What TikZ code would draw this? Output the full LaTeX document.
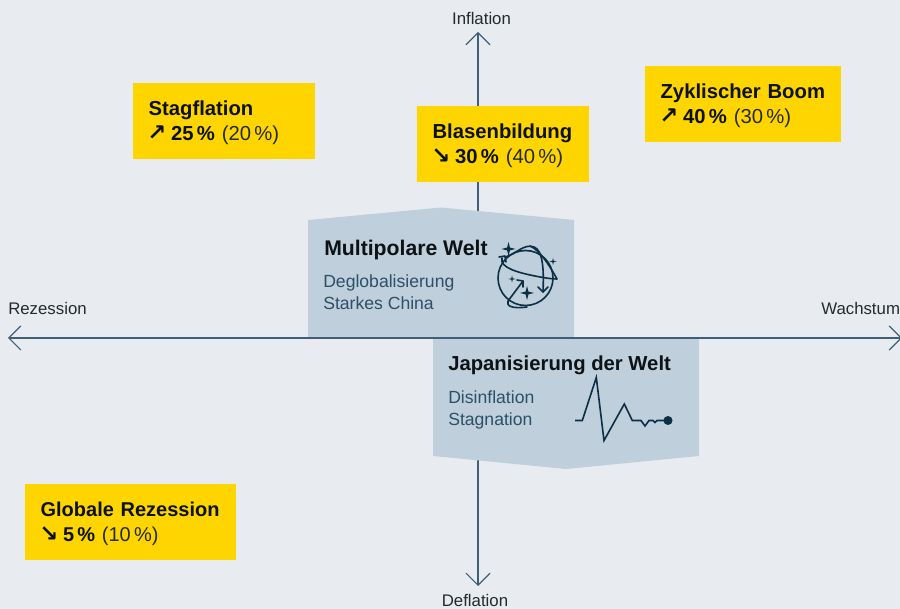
\documentclass[tikz,border=0pt]{standalone}
\usepackage{fontspec}
\setmainfont{Liberation Sans}
\newfontfamily\arrowfont{DejaVu Sans}
\usetikzlibrary{arrows.meta}
\definecolor{bgcol}{HTML}{E8ECF0}
\definecolor{axiscol}{HTML}{3F5F78}
\definecolor{worldcol}{HTML}{BFCFDB}
\definecolor{boxcol}{HTML}{FFD500}
\definecolor{inkcol}{HTML}{0B2F45}
\definecolor{subcol}{HTML}{2C5068}
\definecolor{titlecol}{HTML}{0C1216}
\newcommand{\upa}{\hspace{-1pt}{\arrowfont\bfseries\fontsize{17}{18}\selectfont ↗}\hspace{3.6pt}}
\newcommand{\downa}{\hspace{-1pt}{\arrowfont\bfseries\fontsize{17}{18}\selectfont ↘}\hspace{3.6pt}}
\newcommand{\share}[2]{\textbf{#1\,\%} {\color{titlecol!90}(#2\,\%)}}
\newcommand{\boxtitle}[1]{\mbox{\rule{0pt}{12.7pt}\textbf{#1}}}

\begin{document}
\begin{tikzpicture}[x=0.75pt,y=-0.75pt,
        axis/.style={draw=axiscol,line width=1.6pt,-{Straight Barb[length=9pt,width=18pt,line width=0.9pt,angle'=90]}},
        scenario/.style={anchor=north west,fill=boxcol,minimum height=57pt,inner xsep=11.5pt,inner ysep=0pt,align=left,text=titlecol,font=\fontsize{15.2}{18.6}\selectfont},
        world/.style={fill=worldcol},
        worldtitle/.style={anchor=base west,inner sep=0pt,text=titlecol,font=\fontsize{15.4}{18}\selectfont\bfseries},
        worldsub/.style={anchor=base west,inner sep=0pt,align=left,text=subcol,font=\fontsize{13.2}{16.5}\selectfont},
        axislabel/.style={anchor=base,inner sep=0pt,text=titlecol!90,font=\fontsize{12.6}{14}\selectfont},
        icon/.style={draw=inkcol,line width=1.2pt,line join=round,line cap=round}]
    \clip (0,0) rectangle (900,609);
    \fill[bgcol] (0,0) rectangle (900,609);

    % axes
    \coordinate (centre) at (478,338);
    \coordinate (top) at (478,32);
    \coordinate (bottom) at (478,586);
    \coordinate (left) at (8,338);
    \coordinate (right) at (902,338);
    \draw[axis] (centre) -- (top);
    \draw[axis] (centre) -- (bottom);

    % the two world pictures
    \fill[world] (308,220) -- (441,207.5) -- (574,220) -- (574,338) -- (308,338) -- cycle;
    \fill[world] (433,338) -- (699,338) -- (699,456) -- (566,469) -- (433,456) -- cycle;
    \draw[axis] (centre) -- (left);
    \draw[axis] (centre) -- (right);

    \node[axislabel] (inflation) at (481.5,25) {Inflation};
    \node[axislabel] (deflation) at (475,606) {Deflation};
    \node[axislabel,anchor=base west] (rezession) at (8,314.5) {Rezession};
    \node[axislabel,anchor=base west] (wachstum) at (821,314.5) {Wachstum};

    % scenarios
    \node[scenario,text width=113.5pt] (stag) at (133,83) {\boxtitle{Stagflation}\\\upa\share{25}{20}};
    \node[scenario,text width=106pt] (blase) at (417,106) {\boxtitle{Blasenbildung}\\\downa\share{30}{40}};
    \node[scenario,text width=124pt] (boom) at (645,66) {\boxtitle{Zyklischer Boom}\\\upa\share{40}{30}};
    \node[scenario,text width=135.25pt,font=\fontsize{15}{18.8}\selectfont] (global) at (25,484) {\boxtitle{Globale Rezession}\\\downa\share{5}{10}};

    \node[worldtitle,font=\fontsize{15.9}{18}\selectfont\bfseries] (multi) at (324,255.5) {Multipolare Welt};
    \node[worldsub,anchor=north west] (multisub) at (323,274.5) {Deglobalisierung\\Starkes China};
    \node[worldtitle,font=\fontsize{15.2}{18}\selectfont\bfseries] (japan) at (448,370.5) {Japanisierung der Welt};
    \node[worldsub,anchor=north west] (japansub) at (448,390.5) {Disinflation\\Stagnation};

    % globe icon
    \draw[icon] (525.5,278) circle (27.5);
    \draw[icon] (502,258) .. controls (499,268) and (520,273) .. (535,276) .. controls (545,278) and (552,279) .. (557,279) .. controls (551,268) and (540,250) .. (530,246);
    \draw[icon] (543,292) .. controls (544,270) and (543,250) .. (534,247) .. controls (524,243) and (515,255) .. (505,257);
    \draw[icon] (538,287) -- (543,292) -- (548,287);
    \draw[icon] (499,257) -- (505,256) -- (506,262);
    \draw[icon] (523,281) -- (508,301) .. controls (506,306) and (512,309) .. (527,307);
    \draw[icon] (517,280) -- (523,281) -- (523,287);
    \foreach \x/\y/\r in {508.5/249/7,553/261.5/3.5,512/279/3.5,527/293/7}
        \fill[inkcol] (\x,\y-\r) -- (\x+.2*\r,\y-.2*\r) -- (\x+\r,\y) -- (\x+.2*\r,\y+.2*\r) -- (\x,\y+\r) -- (\x-.2*\r,\y+.2*\r) -- (\x-\r,\y) -- (\x-.2*\r,\y-.2*\r) -- cycle;

    % stagnation icon
    \draw[icon,line cap=butt,line join=miter] (575,420.5) -- (582.3,420.5) -- (596.3,377.5) -- (604,440.5) -- (624.3,404) -- (632.3,420.5) -- (641,420.5) -- (645,426) -- (649,420.5) -- (653,420.5) -- (655,422.5) -- (657,420.5) -- (668,420.5);
    \fill[inkcol] (668,420.5) circle (4.5);
\end{tikzpicture}
\end{document}
